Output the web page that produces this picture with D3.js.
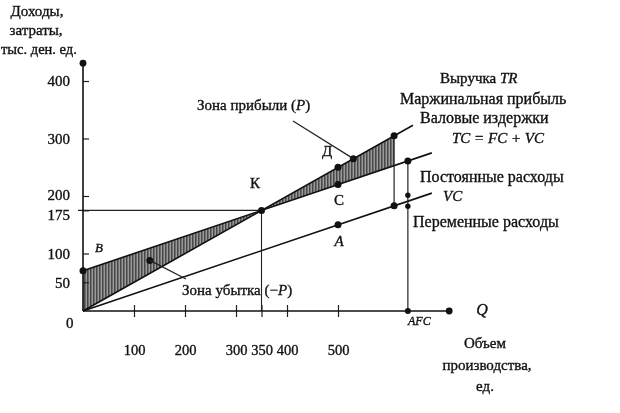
<!DOCTYPE html>
<html>
<head>
<meta charset="utf-8">
<script src="https://cdn.jsdelivr.net/npm/d3@7/dist/d3.min.js"></script>
<style>
  html, body { margin: 0; padding: 0; background: #fff; }
  svg { display: block; filter: blur(0.7px); }
  text { font-family: "Liberation Serif", "DejaVu Serif", serif; fill: #111; stroke: #111; stroke-width: 0.35px; }
</style>
</head>
<body>
<svg id="chart" width="620" height="413"></svg>
<script>
// ---- data ----
const xTicks = [100, 200, 300, 350, 400, 500];
const yTicks = [50, 100, 175, 200, 300, 400];
// straight lines given by their two end points [Q, value]
const trLine = [[0, 0], [647, 323]];      // Выручка TR
const tcLine = [[0, 70], [684, 275]];     // Валовые издержки TC = FC + VC
const vcLine = [[0, 0], [684, 205]];      // VC
// shaded zones: [Q, upper, lower]
const lossZone = [[0, 70, 0], [350, 175, 175]];
const profitZone = [[350, 175, 175], [610, 305, 253]];
// marked points
const points = [
  { name: "K", q: 350, v: 175 },
  { name: "B", q: 0, v: 70 },
  { name: "A", q: 500, v: 150 },
  { name: "C", q: 500, v: 220 },
  { name: "Д", q: 500, v: 250 },
  { name: "pz", q: 530, v: 265 },
  { name: "lz", q: 131, v: 88 }
];
const marginQ = 610, marginVC = 183, marginTR = 305;   // Маржинальная прибыль
const afcQ = 637, afcTC = 261, afcVC = 191;            // AFC line
const xMax = 718, yMax = 431;

// ---- scales ----
const x = d3.scaleLinear().domain([0, 700]).range([83, 83 + 700 * 0.51]);
const y = d3.scaleLinear().domain([0, 400]).range([311, 81]);

const svg = d3.select("#chart");

// hatch pattern
const defs = svg.append("defs");
const pat = defs.append("pattern").attr("id", "hatch").attr("patternUnits", "userSpaceOnUse")
  .attr("width", 3).attr("height", 6);
pat.append("rect").attr("width", 3).attr("height", 6).attr("fill", "#9a9a9a");
pat.append("line").attr("x1", 0.8).attr("x2", 0.8).attr("y1", 0).attr("y2", 6)
  .attr("stroke", "#3a3a3a").attr("stroke-width", 1.3);

const area = d3.area().x(d => x(d[0])).y0(d => y(d[2])).y1(d => y(d[1]));
svg.append("path").datum(lossZone).attr("d", area).attr("fill", "url(#hatch)");
svg.append("path").datum(profitZone).attr("d", area).attr("fill", "url(#hatch)");

const line = d3.line().x(d => x(d[0])).y(d => y(d[1]));
[trLine, tcLine, vcLine].forEach(l => {
  svg.append("path").datum(l).attr("d", line).attr("fill", "none")
    .attr("stroke", "#111").attr("stroke-width", 1.6);
});

// guide lines at K
svg.append("line").attr("x1", x(0) - 5).attr("x2", x(350)).attr("y1", y(175)).attr("y2", y(175))
  .attr("stroke", "#222").attr("stroke-width", 1.1);
svg.append("line").attr("x1", x(350)).attr("x2", x(350)).attr("y1", y(175)).attr("y2", y(0))
  .attr("stroke", "#222").attr("stroke-width", 1.1);

// marginal profit vertical
svg.append("line").attr("x1", x(marginQ)).attr("x2", x(marginQ)).attr("y1", y(marginTR)).attr("y2", y(marginVC))
  .attr("stroke", "#222").attr("stroke-width", 1.2);
// AFC vertical
svg.append("line").attr("x1", x(afcQ)).attr("x2", x(afcQ)).attr("y1", y(afcTC)).attr("y2", y(0))
  .attr("stroke", "#222").attr("stroke-width", 1.2);

// axes
const xAxis = svg.append("g").attr("transform", `translate(0,${y(0)})`)
  .call(d3.axisBottom(x).tickValues(xTicks).tickSize(6).tickPadding(28).tickSizeOuter(0));
xAxis.select(".domain").remove();
xAxis.selectAll(".tick line").attr("y1", -6).attr("stroke", "#222").attr("stroke-width", 1.2);
xAxis.selectAll(".tick text").attr("font-size", 14.5).attr("font-family", "Liberation Serif").attr("fill", "#111");

const yAxis = svg.append("g").attr("transform", `translate(${x(0)},0)`)
  .call(d3.axisLeft(y).tickValues(yTicks).tickSize(5).tickPadding(8).tickSizeOuter(0));
yAxis.select(".domain").remove();
yAxis.selectAll(".tick line").attr("x2", 6).attr("stroke", "#222").attr("stroke-width", 1.2);
yAxis.selectAll(".tick text").attr("font-size", 15).attr("font-family", "Liberation Serif").attr("fill", "#111")
  .attr("dy", d => d === 175 ? "0.6em" : d === 200 ? "0.2em" : "0.32em");

svg.append("line").attr("x1", x(0)).attr("x2", x(xMax)).attr("y1", y(0)).attr("y2", y(0))
  .attr("stroke", "#111").attr("stroke-width", 1.6);
svg.append("line").attr("x1", x(0)).attr("x2", x(0)).attr("y1", y(0)).attr("y2", y(yMax))
  .attr("stroke", "#111").attr("stroke-width", 1.6);
svg.append("circle").attr("cx", x(xMax)).attr("cy", y(0)).attr("r", 3.4).attr("fill", "#111");
svg.append("circle").attr("cx", x(0)).attr("cy", y(yMax)).attr("r", 3.4).attr("fill", "#111");
svg.append("circle").attr("cx", x(afcQ)).attr("cy", y(0)).attr("r", 3).attr("fill", "#111");

// points
const dots = [
  ...points.map(p => [p.q, p.v]),
  [marginQ, marginTR], [marginQ, marginVC], [afcQ, afcTC]
];
svg.selectAll("circle.pt").data(dots).join("circle").attr("class", "pt")
  .attr("cx", d => x(d[0])).attr("cy", d => y(d[1])).attr("r", 3.5).attr("fill", "#111");
// arrow tips at AFC line around VC
svg.append("circle").attr("cx", x(afcQ)).attr("cy", y(afcVC) - 6).attr("r", 2.7).attr("fill", "#111");
svg.append("circle").attr("cx", x(afcQ)).attr("cy", y(afcVC) + 5).attr("r", 2.7).attr("fill", "#111");

// leader lines
const pz = points.find(p => p.name === "pz");
const lz = points.find(p => p.name === "lz");
svg.append("line").attr("x1", 293).attr("y1", 121).attr("x2", x(pz.q)).attr("y2", y(pz.v))
  .attr("stroke", "#222").attr("stroke-width", 1.2);
svg.append("line").attr("x1", x(lz.q)).attr("y1", y(lz.v)).attr("x2", 186).attr("y2", 279)
  .attr("stroke", "#222").attr("stroke-width", 1.2);

// texts
function txt(s, xx, yy, opts = {}) {
  const t = svg.append("text").attr("x", xx).attr("y", yy)
    .attr("font-size", opts.size || 15)
    .attr("text-anchor", opts.anchor || "start")
    .attr("dominant-baseline", "middle");
  if (opts.italic) t.attr("font-style", "italic");
  if (Array.isArray(s)) {
    s.forEach(part => {
      const sp = t.append("tspan").text(part.t);
      if (part.i) sp.attr("font-style", "italic");
    });
  } else t.text(s);
  return t;
}
txt("Доходы,", 37, 13, { anchor: "middle" });
txt("затраты,", 36, 32, { anchor: "middle" });
txt("тыс. ден. ед.", 1, 51, { size: 14.5 });
txt("0", 66, 325);

txt([{ t: "Выручка " }, { t: "TR", i: true }], 440, 80);
txt("Маржинальная прибыль", 400, 100, { size: 16 });
txt("Валовые издержки", 420, 119, { size: 16 });
txt("TC = FC + VC", 452, 140, { italic: true });
txt("Постоянные расходы", 420, 178, { size: 16 });
txt("VC", 443, 198, { italic: true });
txt("Переменные расходы", 413, 223, { size: 16 });
txt("AFC", 408, 322, { italic: true, size: 12 });
txt("Q", 482, 311, { italic: true, size: 16, anchor: "middle" });
txt("Объем", 485, 345, { anchor: "middle" });
txt("производства,", 487, 367, { anchor: "middle" });
txt("ед.", 485, 388, { anchor: "middle" });

txt([{ t: "Зона прибыли (" }, { t: "P", i: true }, { t: ")" }], 197, 107);
txt([{ t: "Зона убытка (−" }, { t: "P", i: true }, { t: ")" }], 182, 292);

txt("К", 255, 185, { anchor: "middle" });
txt("Д", 327, 153, { anchor: "middle" });
txt("C", 339, 202, { anchor: "middle" });
txt("A", 339, 243, { anchor: "middle", italic: true });
txt("B", 99, 249, { anchor: "middle", italic: true, size: 13 });
</script>
</body>
</html>
